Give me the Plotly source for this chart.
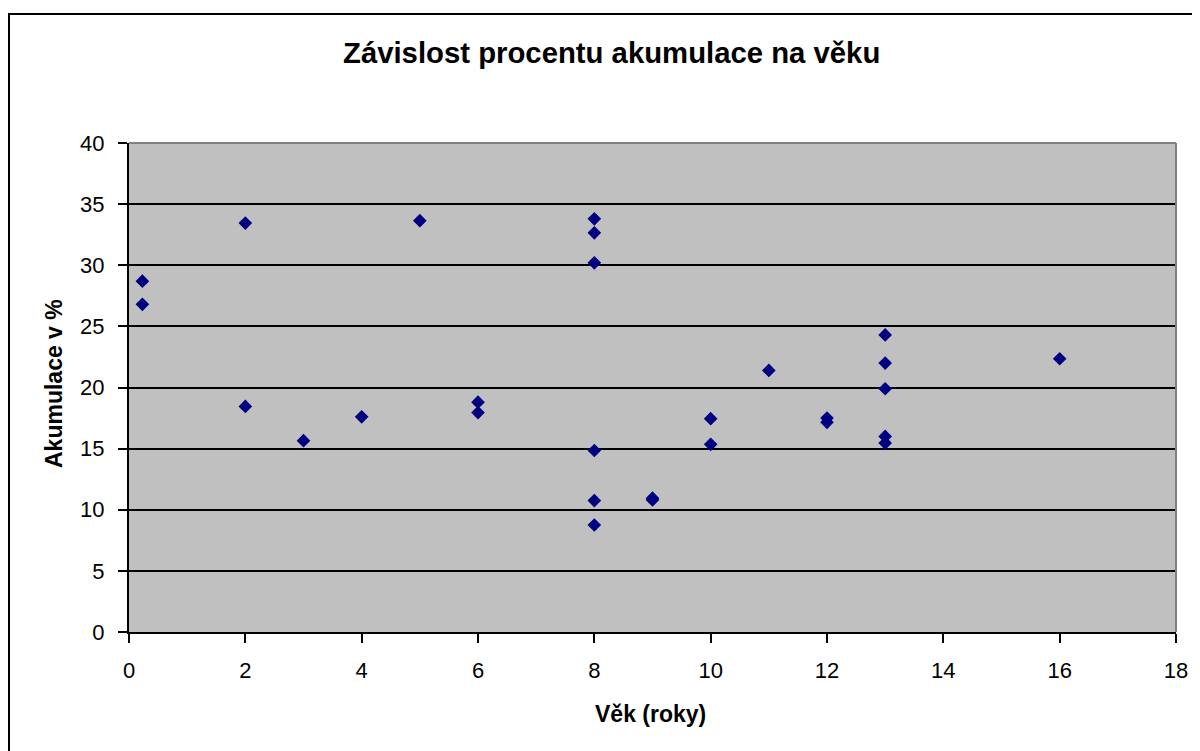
import plotly.graph_objects as go

vek = [0.23, 0.23, 2, 2, 3, 4, 5, 6, 6,
       8, 8, 8, 8, 8, 8, 9, 9, 10, 10, 11, 12, 12,
       13, 13, 13, 13, 13, 16]
akumulace = [28.7, 26.8, 33.45, 18.45, 15.65, 17.6, 33.65, 18.8, 17.95,
             33.8, 32.65, 30.2, 14.85, 10.75, 8.75, 10.8, 10.95, 17.45, 15.35, 21.4, 17.5, 17.15,
             24.3, 22.0, 19.9, 16.0, 15.45, 22.35]

title_text = "Závislost procentu akumulace na věku"
x_title = "Věk (roky)"
y_title = "Akumulace v %"

# page body has an 8px margin, so figure pixel = screen pixel - 8
OFF = 8
W, H = 1200 - OFF, 751 - OFF
L, T = 129 - OFF, 143 - OFF
R = W - (1176 - OFF)
B = H - (632 - OFF)
pw, ph = W - L - R, H - T - B


def px(sx):
    return (sx - OFF - L) / pw


def py(sy):
    return (H - B - (sy - OFF)) / ph


font = "Arial, Liberation Sans, sans-serif"

fig = go.Figure()
fig.add_trace(go.Scatter(
    x=vek, y=akumulace, mode="markers",
    marker=dict(symbol="diamond", size=10.5, color="#000080", line=dict(width=0)),
    showlegend=False, cliponaxis=False,
))

fig.update_layout(
    width=W, height=H,
    margin=dict(l=L, r=R, t=T, b=B),
    paper_bgcolor="white",
    plot_bgcolor="#C0C0C0",
    font=dict(family=font, color="black"),
)
fig.update_xaxes(
    range=[0, 18], tick0=0, dtick=2, showgrid=False, zeroline=False,
    showline=True, linecolor="black", linewidth=2,
    ticks="outside", ticklen=9, tickwidth=1.5, tickcolor="black",
    ticklabelstandoff=9,
    tickfont=dict(family=font, size=22, color="black"),
)
fig.update_yaxes(
    range=[0, 40], tick0=0, dtick=5, showgrid=True, gridcolor="black", gridwidth=2,
    zeroline=False, showline=True, linecolor="black", linewidth=2,
    ticks="outside", ticklen=9, tickwidth=1.5, tickcolor="black",
    ticklabelstandoff=9,
    tickfont=dict(family=font, size=22, color="black"),
)

# titles as annotations at measured positions
fig.add_annotation(text="<b>" + title_text + "</b>", xref="paper", yref="paper",
                   x=px(611), y=py(53), xanchor="center", yanchor="middle", showarrow=False,
                   font=dict(family=font, size=29.3, color="black"))
fig.add_annotation(text="<b>" + x_title + "</b>", xref="paper", yref="paper",
                   x=px(650.5), y=py(713.5), xanchor="center", yanchor="middle", showarrow=False,
                   font=dict(family=font, size=23, color="black"))
fig.add_annotation(text="<b>" + y_title + "</b>", xref="paper", yref="paper",
                   x=px(53.5), y=py(383.5), xanchor="center", yanchor="middle", showarrow=False,
                   textangle=-90, font=dict(family=font, size=23, color="black"))

# gray top and right plot-area border
fig.add_shape(type="line", xref="paper", yref="paper", x0=0, x1=1, y0=1, y1=1,
              line=dict(color="#808080", width=2), layer="above")
fig.add_shape(type="line", xref="paper", yref="paper", x0=1, x1=1, y0=0, y1=1,
              line=dict(color="#808080", width=2), layer="above")
# outer chart border
fig.add_shape(type="rect", xref="paper", yref="paper",
              x0=px(9), x1=px(1215), y0=py(770), y1=py(14),
              line=dict(color="black", width=2), fillcolor="rgba(0,0,0,0)", layer="above")

fig.write_html("out.html")
